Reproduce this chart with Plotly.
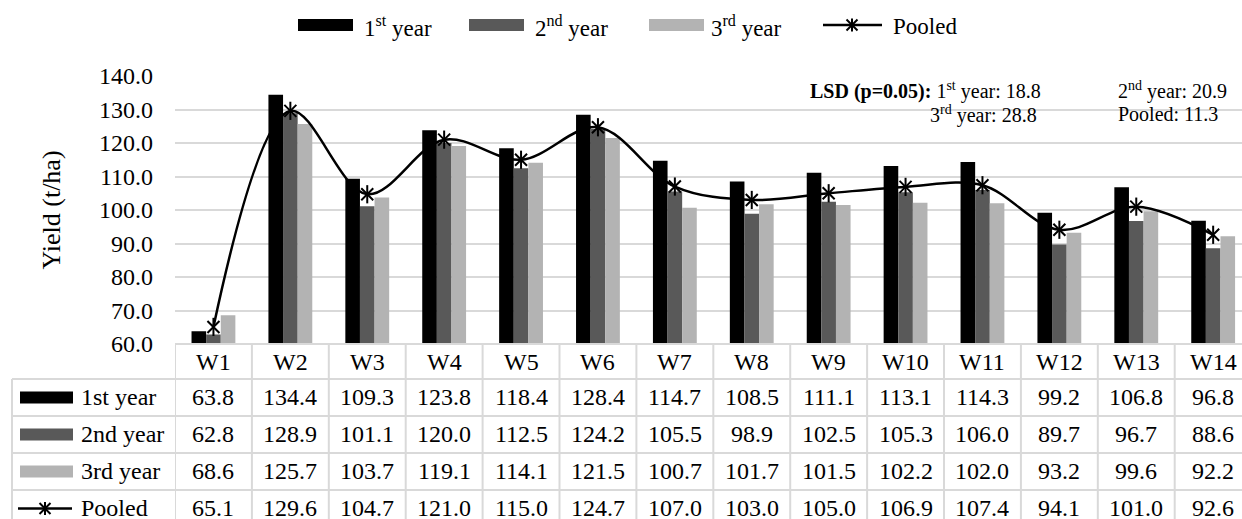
import plotly.graph_objects as go

# ---- data -------------------------------------------------------------
categories = ["W1", "W2", "W3", "W4", "W5", "W6", "W7", "W8", "W9", "W10",
              "W11", "W12", "W13", "W14"]
year1 = [63.8, 134.4, 109.3, 123.8, 118.4, 128.4, 114.7, 108.5, 111.1, 113.1,
         114.3, 99.2, 106.8, 96.8]
year2 = [62.8, 128.9, 101.1, 120.0, 112.5, 124.2, 105.5, 98.9, 102.5, 105.3,
         106.0, 89.7, 96.7, 88.6]
year3 = [68.6, 125.7, 103.7, 119.1, 114.1, 121.5, 100.7, 101.7, 101.5, 102.2,
         102.0, 93.2, 99.6, 92.2]
pooled = [65.1, 129.6, 104.7, 121.0, 115.0, 124.7, 107.0, 103.0, 105.0, 106.9,
          107.4, 94.1, 101.0, 92.6]
series_names = ["1st year", "2nd year", "3rd year", "Pooled"]
legend_labels = ["1<sup>st</sup> year", "2<sup>nd</sup> year",
                 "3<sup>rd</sup> year", "Pooled"]
lsd_labels = ["1<sup>st</sup> year", "2<sup>nd</sup> year",
              "3<sup>rd</sup> year", "Pooled"]
lsd_values = [18.8, 20.9, 28.8, 11.3]
y_ticks = [60, 70, 80, 90, 100, 110, 120, 130, 140]

# ---- styling ----------------------------------------------------------
W, H = 1242, 519
ML, MR, MT, MB = 175, 0, 76, 175
PW, PH = W - ML - MR, H - MT - MB
FONT = "Times New Roman"
COLORS = ["#000000", "#595959", "#b3b3b3"]
GRID = "#d9d9d9"


def px(x):
    """pixel x -> paper x"""
    return (x - ML) / PW


def py(y):
    """pixel y -> paper y"""
    return (H - MB - y) / PH


fig = go.Figure()

for vals, name, col in zip([year1, year2, year3], series_names[:3], COLORS):
    fig.add_trace(go.Bar(x=categories, y=vals, name=name, marker_color=col,
                         marker_line_width=0, showlegend=False))

fig.add_trace(go.Scatter(
    x=categories, y=pooled, name="Pooled", mode="lines+markers",
    line=dict(color="black", width=2.5, shape="spline", smoothing=1.0),
    marker=dict(symbol="x-thin-open", size=12, color="black",
                line=dict(color="black", width=2)),
    showlegend=False))
fig.add_trace(go.Scatter(
    x=categories, y=pooled, mode="markers", hoverinfo="skip",
    marker=dict(symbol="line-ns-open", size=13, color="black",
                line=dict(color="black", width=2)),
    showlegend=False))

shapes = []
annotations = []

# ---- legend across the top -------------------------------------------
leg_y = 25
leg_swatch_x = [298, 469, 649]
leg_text_x = [362, 533, 709, 891]
for i in range(3):
    shapes.append(dict(type="rect", xref="paper", yref="paper",
                       x0=px(leg_swatch_x[i]), x1=px(leg_swatch_x[i] + 55),
                       y0=py(leg_y + 6), y1=py(leg_y - 6),
                       fillcolor=COLORS[i], line_width=0))
shapes.append(dict(type="line", xref="paper", yref="paper",
                   x0=px(823), x1=px(882), y0=py(leg_y), y1=py(leg_y),
                   line=dict(color="black", width=2.5)))
for i, lab in enumerate(legend_labels):
    annotations.append(dict(text=lab, xref="paper", yref="paper",
                            x=px(leg_text_x[i]), y=py(leg_y + 1),
                            xanchor="left", yanchor="middle", showarrow=False,
                            font=dict(size=23, color="black", family=FONT)))
legend_marker_pts = [(852, leg_y)]

# ---- LSD note ----------------------------------------------------------
lsd_pos = [(808, 90), (1116, 90), (928, 114), (1116, 114)]
for i, (lab, val) in enumerate(zip(lsd_labels, lsd_values)):
    txt = f"{lab}: {val:.1f}"
    if i == 0:
        txt = "<b>LSD (p=0.05):</b> " + txt
    x0, y0 = lsd_pos[i]
    annotations.append(dict(text=txt, xref="paper", yref="paper",
                            x=px(x0), y=py(y0), xanchor="left",
                            yanchor="middle", showarrow=False,
                            font=dict(size=20, color="black", family=FONT)))

# ---- data table under the plot -----------------------------------------
row_top = [344, 379, 416, 453, 490]
row_h = 37
table_bottom = 527
label_left = 12
n = len(categories)

# header row and column borders
shapes.append(dict(type="line", xref="paper", yref="paper",
                   x0=0, x1=1, y0=py(row_top[0]), y1=py(row_top[0]),
                   line=dict(color=GRID, width=2)))
for r in row_top[1:]:
    shapes.append(dict(type="line", xref="paper", yref="paper",
                       x0=px(label_left), x1=1, y0=py(r), y1=py(r),
                       line=dict(color=GRID, width=2)))
for i in range(n + 1):
    shapes.append(dict(type="line", xref="x", yref="paper",
                       x0=i - 0.5, x1=i - 0.5,
                       y0=py(row_top[0]), y1=py(table_bottom),
                       line=dict(color=GRID, width=2)))
shapes.append(dict(type="line", xref="paper", yref="paper",
                   x0=px(label_left), x1=px(label_left),
                   y0=py(row_top[1]), y1=py(table_bottom),
                   line=dict(color=GRID, width=2)))

# category header
for c in categories:
    annotations.append(dict(text=c, xref="x", yref="paper", x=c,
                            y=py(row_top[0] + 18), xanchor="center",
                            yanchor="middle", showarrow=False,
                            font=dict(size=24, color="black", family=FONT)))

# value rows
table_rows = [year1, year2, year3, pooled]
for r, (vals, name) in enumerate(zip(table_rows, series_names)):
    yc = row_top[r + 1] + row_h / 2
    for c, v in zip(categories, vals):
        annotations.append(dict(text=f"{v:.1f}", xref="x", yref="paper", x=c,
                                y=py(yc - 1), xanchor="center",
                                yanchor="middle", showarrow=False,
                                font=dict(size=24, color="black",
                                          family=FONT)))
    annotations.append(dict(text=name, xref="paper", yref="paper",
                            x=px(79), y=py(yc - 1), xanchor="left",
                            yanchor="middle", showarrow=False,
                            font=dict(size=24, color="black", family=FONT)))
    if r < 3:
        shapes.append(dict(type="rect", xref="paper", yref="paper",
                           x0=px(20), x1=px(73), y0=py(yc + 6),
                           y1=py(yc - 6), fillcolor=COLORS[r], line_width=0))
    else:
        shapes.append(dict(type="line", xref="paper", yref="paper",
                           x0=px(18), x1=px(72), y0=py(yc), y1=py(yc),
                           line=dict(color="black", width=2.5)))
        legend_marker_pts.append((45, yc))

# asterisk glyphs for the Pooled key entries
for (mx, my) in legend_marker_pts:
    s = 5.5
    for dx0, dy0, dx1, dy1 in [(-s, -s, s, s), (-s, s, s, -s), (0, -s - 1, 0, s + 1)]:
        shapes.append(dict(type="line", xref="paper", yref="paper",
                           x0=px(mx + dx0), x1=px(mx + dx1),
                           y0=py(my + dy0), y1=py(my + dy1),
                           line=dict(color="black", width=2)))

fig.update_layout(
    width=W, height=H,
    margin=dict(l=ML, r=MR, t=MT, b=MB, pad=0),
    paper_bgcolor="white", plot_bgcolor="white",
    barmode="group", bargap=0.43, bargroupgap=0,
    font=dict(family=FONT, color="black"),
    shapes=shapes, annotations=annotations,
    showlegend=False,
)
fig.update_xaxes(type="category", range=[-0.5, 13.375], showticklabels=False,
                 showgrid=False, zeroline=False, showline=False, ticks="")
fig.update_yaxes(range=[60, 140], tickvals=y_ticks,
                 ticktext=[f"{t:.1f}" for t in y_ticks],
                 tickfont=dict(size=24, family=FONT, color="black"),
                 ticklabelstandoff=21,
                 showgrid=True, gridcolor=GRID, gridwidth=2,
                 zeroline=False, showline=False,
                 title=dict(text="Yield (t/ha)", standoff=30,
                            font=dict(size=26, family=FONT, color="black")))

fig.write_html("out.html")
